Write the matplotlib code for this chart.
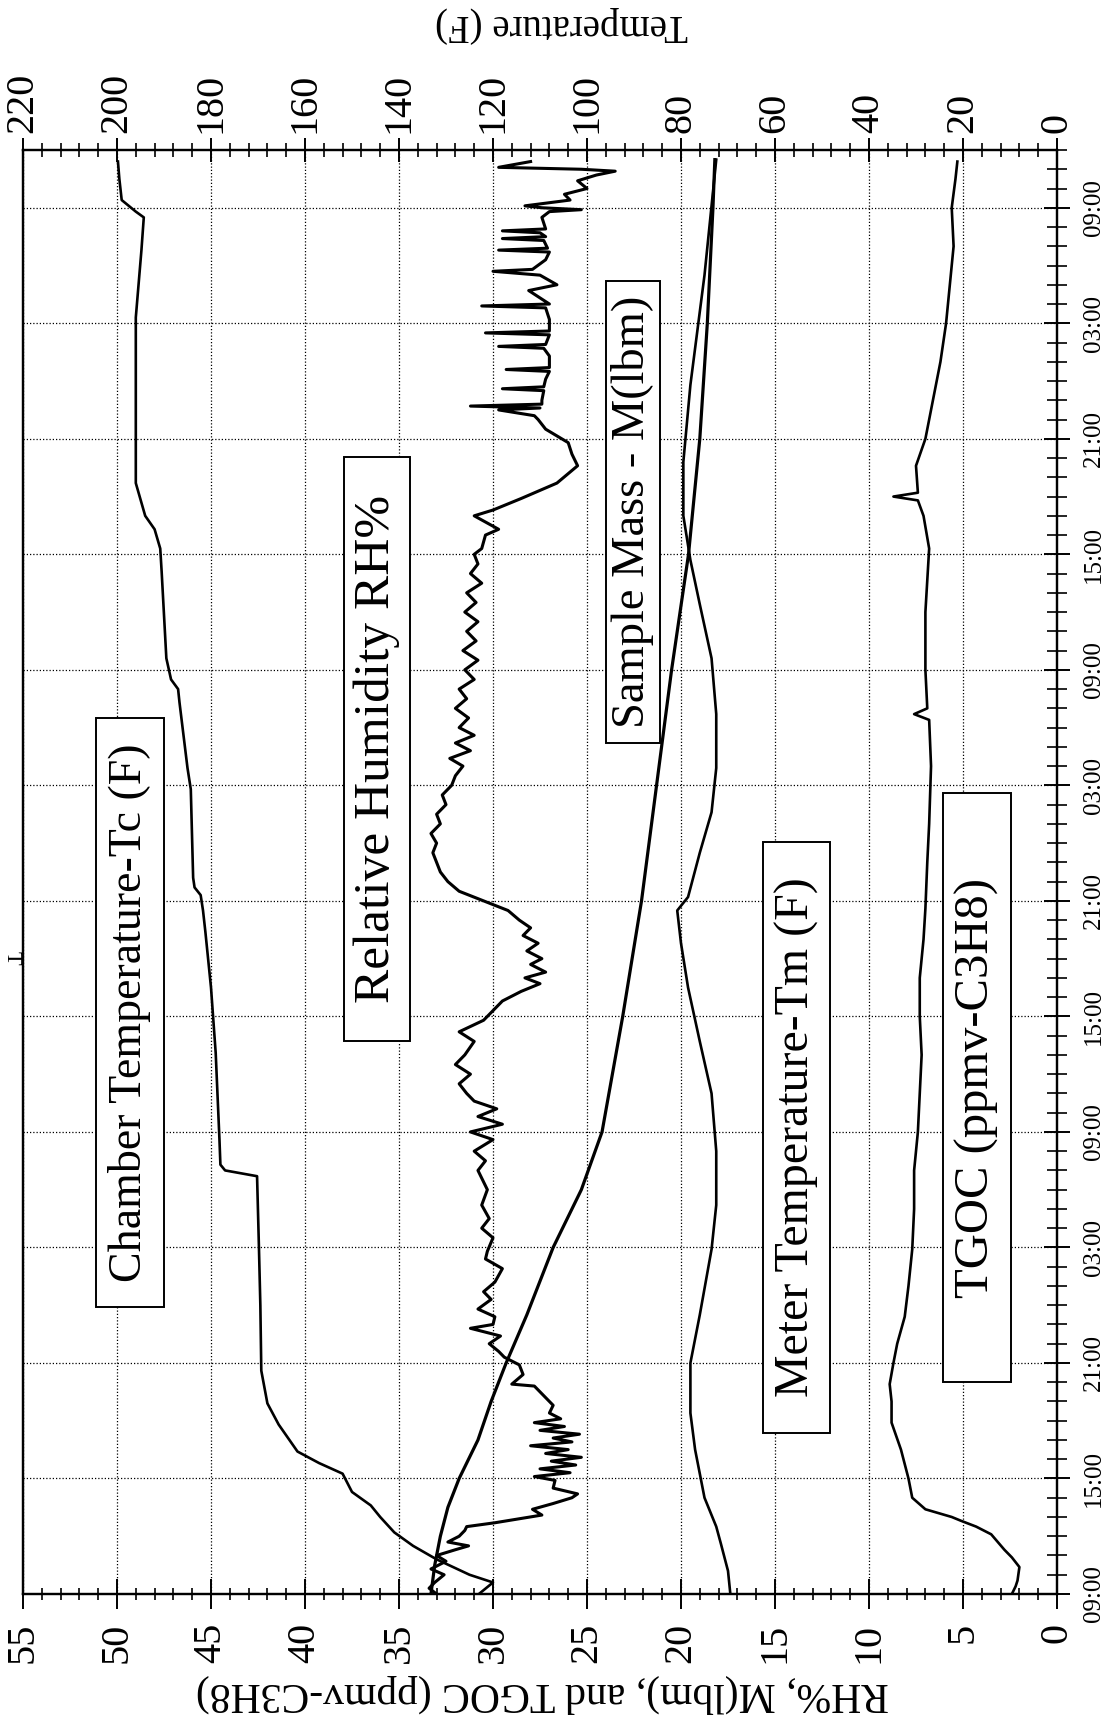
import matplotlib
matplotlib.use("Agg")
import matplotlib.pyplot as plt
from matplotlib.ticker import MultipleLocator, FixedLocator
from matplotlib.patches import Rectangle

plt.rcParams['font.family'] = ['Liberation Serif', 'DejaVu Serif']

# ---------------- data (time in hours from 09:00 of day 1) ----------------
time_labels = ['09:00', '15:00', '21:00', '03:00'] * 3 + ['09:00']

rh_t = [0.0, 0.3, 0.6, 1.0, 1.3, 1.7, 2.0, 2.3, 2.5, 2.7, 3.0, 3.3, 3.5, 3.7, 4.1, 4.4, 4.7, 5.0, 5.2,
        5.5, 5.9, 6.1, 6.3, 6.5, 6.7, 6.9, 7.1, 7.3, 7.5, 7.7, 7.9, 8.1, 8.3, 8.5, 8.7, 8.9, 9.1, 9.4,
        9.8, 10.2, 10.8, 10.9, 11.4, 11.9, 12.3, 12.6, 13.0, 13.4, 13.8, 14.0, 14.4, 14.8, 15.3, 15.7,
        16.2, 16.9, 17.4, 17.8, 18.5, 19.0, 19.5, 20.2, 21.0, 22.0, 22.5, 23.0, 23.6, 24.0, 24.4, 24.8,
        25.2, 25.6, 26.0, 26.5, 27.0, 27.5, 28.0, 28.7, 29.2, 29.8, 30.3, 30.8, 31.3, 31.7, 32.0, 32.3,
        32.7, 33.0, 33.4, 33.8, 34.2, 34.6, 35.0, 35.5, 36.0, 36.5, 37.0, 37.5, 38.0, 38.5, 39.0, 39.5,
        40.0, 40.5, 41.0, 41.5, 42.0, 42.5, 43.0, 43.4, 43.8, 44.2, 44.6, 45.0, 45.5, 46.0, 46.5, 47.0,
        47.5, 48.0, 48.5, 49.0, 49.5, 50.0, 50.5, 51.0, 51.5, 52.0, 52.5, 53.0, 53.5, 54.0, 54.3, 55.0,
        55.3, 56.0, 56.3, 56.9, 57.7, 58.6, 59.2, 59.8, 60.5, 61.0, 61.2, 61.5, 61.6, 61.7, 61.8, 62.0,
        62.5, 62.6, 62.7, 63.1, 63.5, 63.6, 63.7, 64.3, 64.7, 64.8, 64.9, 65.4, 65.5, 65.6, 66.2, 66.8,
        66.9, 67.0, 67.7, 68.0, 68.5, 68.7, 68.8, 69.3, 69.7, 69.8, 69.9, 70.3, 70.4, 70.5, 70.7, 70.8,
        70.9, 71.5, 71.8, 71.9, 72.0, 72.1, 72.4, 72.7, 73.0, 73.4, 73.7, 73.9, 74.0, 74.1, 74.4]
rh_v = [33.0, 33.4, 33.1, 32.6, 33.3, 32.5, 33.0, 32.0, 31.3, 32.4, 31.8, 31.5, 31.4, 29.9, 27.4, 27.9,
        26.8, 25.8, 25.5, 26.8, 26.7, 27.8, 25.9, 27.5, 25.6, 26.9, 25.3, 27.2, 26.0, 28.0, 25.8, 26.8,
        25.4, 27.5, 26.2, 27.8, 26.4, 27.0, 26.8, 27.2, 27.8, 29.0, 28.4, 28.6, 29.4, 29.7, 30.2, 29.6,
        31.2, 30.0, 29.9, 30.8, 30.1, 30.5, 29.9, 29.5, 30.4, 30.3, 30.0, 30.6, 30.2, 30.6, 30.3, 30.8,
        30.4, 31.0, 30.0, 31.2, 29.5, 30.8, 29.8, 31.0, 31.4, 31.8, 31.2, 32.0, 31.5, 31.0, 31.8, 30.5,
        30.0, 29.5, 28.5, 27.5, 28.3, 27.2, 28.0, 27.4, 28.2, 27.6, 28.4, 28.0, 28.6, 29.2, 30.5, 31.8,
        32.4, 32.8, 33.0, 33.2, 33.0, 33.3, 32.8, 33.0, 32.5, 32.7, 32.2, 32.0, 31.6, 32.3, 31.2, 32.0,
        31.0, 31.8, 31.3, 32.0, 31.4, 31.8, 31.0, 31.5, 30.8, 31.6, 30.9, 31.4, 30.8, 31.5, 30.9, 31.4,
        30.6, 31.2, 30.8, 31.0, 30.6, 30.4, 29.7, 31.0, 30.0, 28.5, 26.6, 25.5, 25.8, 26.0, 27.2, 27.6,
        27.8, 29.7, 27.5, 31.2, 27.4, 27.4, 27.3, 29.5, 27.3, 27.2, 27.0, 29.3, 27.0, 27.0, 27.3, 29.7,
        27.2, 27.0, 30.4, 27.0, 27.0, 27.2, 30.6, 27.0, 28.1, 26.6, 27.5, 30.0, 27.9, 27.2, 27.0, 29.7,
        27.1, 27.3, 29.5, 27.2, 27.5, 29.5, 27.2, 27.4, 27.0, 25.3, 27.4, 28.3, 25.9, 26.2, 25.0, 25.5,
        24.5, 23.5, 25.3, 29.7, 28.0]

tc_t = [0.0, 0.3, 0.6, 1.0, 1.8, 2.5, 3.2, 4.0, 4.6, 5.3, 6.25, 6.8, 7.4, 8.8, 9.9, 11.6, 15.0, 18.0,
        21.7, 22.0, 22.3, 23.6, 28.1, 31.5, 34.4, 35.5, 36.3, 36.7, 37.2, 41.8, 42.9, 46.3, 47.0, 47.5,
        48.6, 53.1, 54.3, 55.3, 56.0, 57.7, 60.0, 63.0, 66.3, 69.8, 71.5, 71.8, 72.4, 73.5, 74.4]
tc_f = [123, 121.5, 120, 125, 132, 137, 141, 144, 146, 150, 152, 157, 161.6, 165.6, 168, 169.3, 169.5,
        169.8, 170.2, 177, 178, 178.2, 179, 180, 181.2, 181.7, 182.2, 183.5, 183.8, 184.3, 185, 186.7,
        187, 188.5, 189.5, 190.5, 190.8, 192, 194, 196, 196, 196, 196, 194.8, 194.3, 196, 199, 199.5,
        199.8]

mass_t = [0.0, 1.5, 3.0, 4.5, 6.0, 8.0, 10.0, 12.0, 14.5, 18.0, 21.0, 24.0, 30.0, 36.0, 42.0, 48.0,
          54.0, 60.0, 66.0, 72.0, 74.5]
mass_v = [33.3, 33.1, 32.8, 32.4, 31.8, 30.8, 30.1, 29.3, 28.2, 26.8, 25.3, 24.2, 23.1, 22.1, 21.3,
          20.5, 19.6, 19.0, 18.6, 18.3, 18.2]

tm_t = [0.0, 1.2, 2.6, 3.5, 5.0, 7.5, 9.4, 12.0, 14.5, 17.9, 20.2, 23.0, 26.0, 28.7, 31.5, 33.8, 35.5,
        36.2, 38.5, 40.6, 42.9, 45.7, 48.6, 51.4, 53.7, 56.0, 58.8, 62.8, 68.5, 74.5]
tm_f = [69.5, 70, 71.5, 72.5, 75, 77, 78, 78, 76, 73.5, 72.5, 72.5, 73.5, 76, 78.5, 80, 80.8, 78.5, 76,
        73.5, 72.5, 72.5, 73.5, 76, 78, 79.5, 79.5, 78, 75, 72.5]

tgoc_t = [0.0, 0.4, 0.7, 1.4, 1.9, 2.3, 3.1, 3.5, 3.8, 4.0, 4.4, 5.0, 6.0, 7.5, 8.9, 10.0, 10.9, 12.0,
          13.0, 14.4, 16.0, 17.9, 20.0, 22.0, 24.0, 26.0, 28.0, 30.0, 32.0, 34.0, 35.6, 38.0, 40.0,
          43.0, 45.4, 45.7, 46.0, 48.0, 51.0, 54.3, 56.0, 56.8, 57.0, 57.2, 58.6, 60.0, 62.0, 64.0,
          66.0, 68.0, 70.0, 72.0, 73.5, 74.4]
tgoc_v = [2.4, 2.2, 2.1, 2.0, 2.4, 2.8, 3.5, 4.3, 5.1, 5.6, 7.0, 7.7, 7.9, 8.3, 8.8, 8.8, 8.9, 8.7,
          8.5, 8.1, 7.9, 7.7, 7.6, 7.6, 7.4, 7.3, 7.2, 7.3, 7.3, 7.1, 7.0, 6.9, 6.8, 6.7, 6.8, 7.6,
          6.9, 7.0, 7.0, 6.8, 7.1, 7.4, 8.7, 7.4, 7.5, 7.0, 6.6, 6.2, 5.9, 5.7, 5.5, 5.6, 5.4, 5.3]

box_texts = ['Chamber Temperature-Tc (F)', 'Relative Humidity RH%', 'Sample Mass - M(lbm)',
             'Meter Temperature-Tm (F)', 'TGOC (ppmv-C3H8)']

# ---------------- figure ----------------
W, H = 1118, 1718
fig = plt.figure(figsize=(W / 100, H / 100), dpi=100)
fig.patch.set_facecolor('white')

L, R, T, B = 23, 1057, 150, 1594
ax = fig.add_axes([L / W, 1 - B / H, (R - L) / W, (B - T) / H])
ax.set_xlim(55, 0)
ax.set_ylim(0, 75)

axt = ax.twiny()
axt.set_xlim(220, 0)

lw = 1.9
ax.plot(rh_v, rh_t, color='black', lw=lw + 0.3, zorder=3)
ax.plot(mass_v, mass_t, color='black', lw=lw + 0.4, zorder=3)
ax.plot(tgoc_v, tgoc_t, color='black', lw=lw, zorder=3)
axt.plot(tc_f, tc_t, color='black', lw=lw, zorder=3)
axt.plot(tm_f, tm_t, color='black', lw=lw, zorder=3)

# bottom axis (RH etc.)
ax.xaxis.set_major_locator(MultipleLocator(5))
ax.xaxis.set_minor_locator(MultipleLocator(1))
ax.tick_params(axis='x', which='major', direction='inout', length=21.6, width=1.4,
               labelsize=29, labelrotation=90, pad=10)
ax.tick_params(axis='x', which='minor', direction='inout', length=8.6, width=1.2)

# time axis on right
ax.yaxis.tick_right()
ax.yaxis.set_major_locator(FixedLocator(list(range(0, 73, 6))))
ax.yaxis.set_minor_locator(MultipleLocator(1))
ax.set_yticklabels(time_labels)
ax.tick_params(axis='y', which='major', direction='inout', length=19.4, width=1.4,
               labelsize=18, labelrotation=90, pad=9, left=False, right=True)
ax.tick_params(axis='y', which='minor', direction='inout', length=14.4, width=1.2,
               left=False, right=True)
for lab in ax.get_yticklabels():
    lab.set_verticalalignment('center')

# top axis (temperature)
axt.xaxis.set_major_locator(MultipleLocator(20))
axt.xaxis.set_minor_locator(MultipleLocator(4))
axt.tick_params(axis='x', which='major', direction='inout', length=16.6, width=1.4,
                labelsize=29, labelrotation=90, pad=4)
axt.tick_params(axis='x', which='minor', direction='inout', length=9.4, width=1.2)

ax.grid(True, which='major', color='black', linestyle=(0, (1, 1.6)), linewidth=0.9)
for a in (ax, axt):
    for s in a.spines.values():
        s.set_linewidth(1.6)

# axis titles (upside down)
fig.text(542 / W, 1 - 1694 / H, 'RH%, M(lbm), and TGOC (ppmv-C3H8)', rotation=180,
         ha='center', va='center', fontsize=30)
fig.text(562 / W, 1 - 24 / H, 'Temperature (F)', rotation=180,
         ha='center', va='center', fontsize=28)

# stray title fragment at left edge
fig.text(11 / W, 1 - 958 / H, 'T', rotation=-90, ha='center', va='center', fontsize=16)

# labelled boxes
boxes = [(96, 718, 164, 1307), (344, 457, 410, 1041), (606, 281, 660, 743),
         (763, 842, 830, 1433), (943, 793, 1011, 1382)]
box_sizes = [33, 37, 33.5, 34.5, 35]
for (x0, y0, x1, y1), s, fs in zip(boxes, box_texts, box_sizes):
    fig.add_artist(Rectangle((x0 / W, 1 - y1 / H), (x1 - x0) / W, (y1 - y0) / H,
                             transform=fig.transFigure, facecolor='white', edgecolor='black',
                             lw=1.4, zorder=5))
    fig.text((x0 + x1) / 2 / W, 1 - (y0 + y1) / 2 / H, s, rotation=90, ha='center', va='center',
             fontsize=fs, zorder=6)

fig.savefig('out.png', dpi=100, facecolor='white')
